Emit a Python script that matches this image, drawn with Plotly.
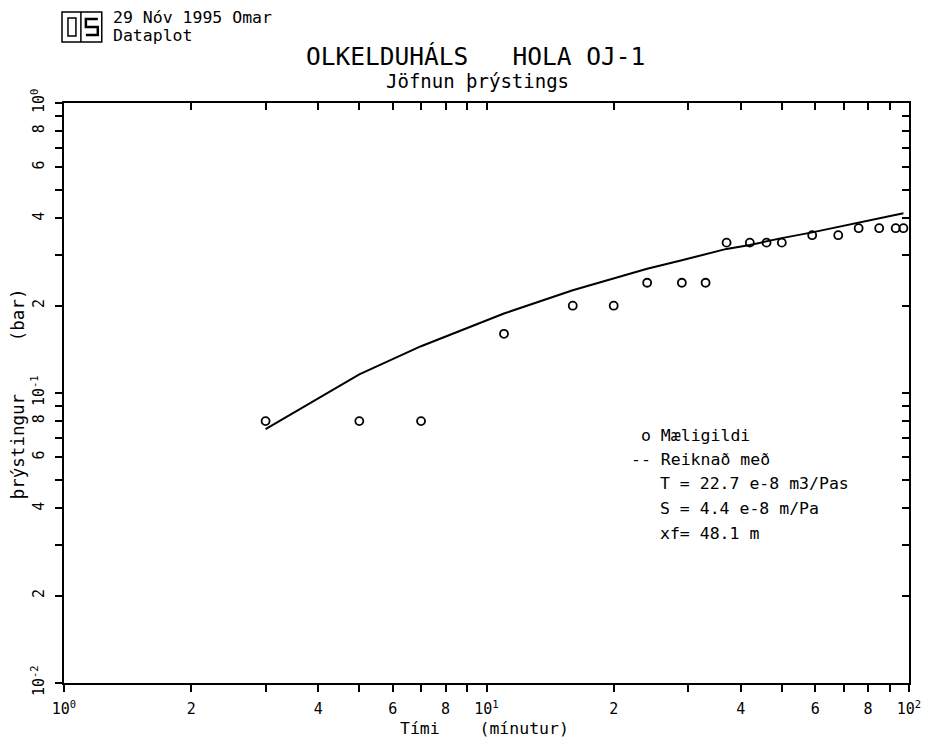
import plotly.graph_objects as go

# Measured pressure build-up (time in minutes, pressure in bar)
time_min = [3, 5, 7, 11, 16, 20, 24, 29, 33, 37, 42, 46, 50, 59, 68, 76, 85, 93, 97]
measured_bar = [0.08, 0.08, 0.08, 0.16, 0.20, 0.20, 0.24, 0.24, 0.24,
                0.33, 0.33, 0.33, 0.33, 0.35, 0.35, 0.37, 0.37, 0.37, 0.37]
# Calculated response (fitted model)
model_bar = [0.075, 0.116, 0.145, 0.188, 0.226, 0.248, 0.268, 0.287, 0.301, 0.314,
             0.324, 0.334, 0.342, 0.358, 0.374, 0.388, 0.400, 0.412, 0.417]

# Labelled log ticks and the unlabelled minor ticks between them
x_tickvals = [1, 2, 4, 6, 8, 10, 20, 40, 60, 80, 100]
x_ticktext = ["10<sup>0</sup>", "2", "4", "6", "8",
              "10<sup>1</sup>", "2", "4", "6", "8", "10<sup>2</sup>"]
x_minor = [3, 5, 7, 9, 30, 50, 70, 90]
y_tickvals = [0.01, 0.02, 0.04, 0.06, 0.08, 0.1, 0.2, 0.4, 0.6, 0.8, 1.0]
y_ticktext = ["10<sup>-2</sup>", "2", "4", "6", "8",
              "10<sup>-1</sup>", "2", "4", "6", "8", "10<sup>0</sup>"]
y_minor = [0.03, 0.05, 0.07, 0.09, 0.3, 0.5, 0.7, 0.9]

W, H = 933, 740
ML, MR, MT, MB = 64, 19, 103, 57
FONT = "DejaVu Sans Mono"


def px(x):
    return (x - ML) / (W - ML - MR)


def py(y):
    return (H - MB - y) / (H - MT - MB)


fig = go.Figure()

fig.add_trace(go.Scatter(
    x=time_min, y=model_bar, mode="lines",
    line=dict(color="black", width=2), showlegend=False, hoverinfo="skip"))
fig.add_trace(go.Scatter(
    x=time_min, y=measured_bar, mode="markers",
    marker=dict(symbol="circle-open", size=8, color="black", line=dict(width=1.8)),
    showlegend=False, hoverinfo="skip"))
# frame axes on top / right (inward ticks)
fig.add_trace(go.Scatter(x=[None], y=[None], xaxis="x2", yaxis="y2",
                         showlegend=False, hoverinfo="skip"))

common = dict(type="log", showgrid=False, zeroline=False, showline=True,
              linecolor="black", linewidth=2, tickcolor="black", tickwidth=1.5,
              ticklen=7)


def minor(vals, side):
    return dict(tickmode="array", tickvals=vals, ticks=side, ticklen=7,
                tickwidth=1.5, tickcolor="black", showgrid=False)


fig.update_layout(
    width=W, height=H,
    margin=dict(l=ML, r=MR, t=MT, b=MB),
    paper_bgcolor="white", plot_bgcolor="white",
    font=dict(family=FONT, color="black", size=15),
    xaxis=dict(**common, range=[0, 2], tickmode="array", tickvals=x_tickvals,
               ticktext=x_ticktext, ticks="outside", tickangle=0,
               minor=minor(x_minor, "outside"),
               ticklabelstandoff=4, tickfont=dict(family=FONT, size=15)),
    yaxis=dict(**common, range=[-2, 0], tickmode="array", tickvals=y_tickvals,
               ticktext=y_ticktext, ticks="outside", tickangle=-90,
               minor=minor(y_minor, "outside"),
               ticklabelstandoff=5, tickfont=dict(family=FONT, size=15)),
    xaxis2=dict(**common, range=[0, 2], overlaying="x", side="top", anchor="y",
                tickmode="array", tickvals=x_tickvals, ticks="inside",
                minor=minor(x_minor, "inside"), showticklabels=False),
    yaxis2=dict(**common, range=[-2, 0], overlaying="y", side="right", anchor="x",
                tickmode="array", tickvals=y_tickvals, ticks="inside",
                minor=minor(y_minor, "inside"), showticklabels=False),
)

ann = []
# titles
ann.append(dict(text="OLKELDUHÁLS   HOLA OJ-1", x=px(478), y=py(56),
                font=dict(family=FONT, size=24.5)))
ann.append(dict(text="Jöfnun þrýstings", x=px(480), y=py(81),
                font=dict(family=FONT, size=19)))
# header
ann.append(dict(text="29 Nóv 1995 Omar", x=px(111), y=py(18), xanchor="left",
                font=dict(family=FONT, size=16.5)))
ann.append(dict(text="Dataplot", x=px(111), y=py(36), xanchor="left",
                font=dict(family=FONT, size=16.5)))
# axis titles
ann.append(dict(text="Tími    (mínutur)", x=px(487), y=py(728),
                font=dict(family=FONT, size=16.5)))
ann.append(dict(text="þrýstingur     (bar)", x=px(18), y=py(394), textangle=-90,
                font=dict(family=FONT, size=17.5)))
# legend block
leg = [("o Mæligildi", 642, 435), ("-- Reiknað með", 632, 459),
       ("T = 22.7 e-8 m3/Pas", 662, 483), ("S = 4.4 e-8 m/Pa", 662, 508),
       ("xf= 48.1 m", 662, 533)]
for txt, lx, ly in leg:
    ann.append(dict(text=txt, x=px(lx), y=py(ly), xanchor="left",
                    font=dict(family=FONT, size=16.5)))

for a in ann:
    a.setdefault("xanchor", "center")
    a.update(xref="paper", yref="paper", yanchor="middle", showarrow=False)
fig.update_layout(annotations=ann)

# header logo
lw = dict(color="black", width=1.5)
shapes = [
    dict(type="rect", x0=px(62), x1=px(102), y0=py(42), y1=py(12), line=lw),
    dict(type="rect", x0=px(68), x1=px(76), y0=py(36), y1=py(18), line=lw),
    dict(type="line", x0=px(81), x1=px(81), y0=py(42), y1=py(12), line=lw),
    dict(type="path",
         path=(f"M {px(98)},{py(19)} L {px(86)},{py(19)} L {px(86)},{py(27)} "
               f"L {px(98)},{py(27)} L {px(98)},{py(35)} L {px(86)},{py(35)}"),
         line=dict(color="black", width=2.5)),
]
for s in shapes:
    s.update(xref="paper", yref="paper")
fig.update_layout(shapes=shapes)

fig.write_html("out.html")
